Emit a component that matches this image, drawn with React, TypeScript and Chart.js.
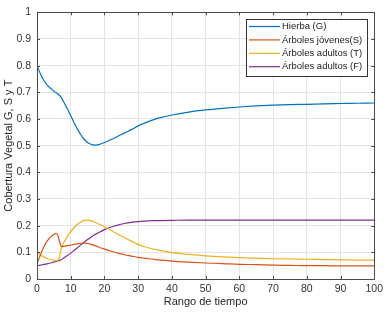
import React, { useEffect, useRef } from "react";
import { Chart, registerables } from "chart.js";

Chart.register(...registerables);

const time = [0, 1, 2, 3, 4, 5, 5.7, 6.2, 6.7, 7.2, 8, 9, 10, 11, 12, 13, 14, 15, 16, 17, 18, 20, 22, 24, 26, 28, 30, 33, 36, 40, 45, 50, 55, 60, 65, 70, 75, 80, 85, 90, 95, 100];

const hierbaG = [0.8, 0.77, 0.745, 0.728, 0.715, 0.705, 0.698, 0.694, 0.688, 0.68, 0.662, 0.638, 0.612, 0.586, 0.562, 0.541, 0.524, 0.512, 0.505, 0.502, 0.503, 0.512, 0.523, 0.535, 0.548, 0.56, 0.574, 0.59, 0.603, 0.615, 0.626, 0.634, 0.64, 0.645, 0.649, 0.652, 0.654, 0.655, 0.657, 0.658, 0.659, 0.66];

const jovenesS = [0.055, 0.09, 0.12, 0.142, 0.157, 0.167, 0.171, 0.163, 0.14, 0.121, 0.123, 0.125, 0.127, 0.13, 0.132, 0.134, 0.135, 0.133, 0.13, 0.126, 0.121, 0.112, 0.104, 0.097, 0.091, 0.086, 0.081, 0.076, 0.072, 0.067, 0.063, 0.06, 0.058, 0.055, 0.054, 0.052, 0.051, 0.05, 0.05, 0.049, 0.049, 0.049];

const adultosT = [0.1, 0.09, 0.083, 0.077, 0.073, 0.07, 0.069, 0.07, 0.085, 0.118, 0.138, 0.16, 0.178, 0.193, 0.205, 0.214, 0.22, 0.221, 0.219, 0.214, 0.208, 0.196, 0.182, 0.168, 0.155, 0.142, 0.129, 0.117, 0.108, 0.099, 0.092, 0.087, 0.083, 0.08, 0.078, 0.076, 0.075, 0.074, 0.073, 0.072, 0.071, 0.071];

const adultosF = [0.05, 0.052, 0.055, 0.057, 0.06, 0.063, 0.066, 0.068, 0.07, 0.072, 0.08, 0.088, 0.097, 0.107, 0.117, 0.128, 0.138, 0.148, 0.157, 0.165, 0.172, 0.185, 0.195, 0.202, 0.208, 0.212, 0.215, 0.218, 0.219, 0.22, 0.221, 0.221, 0.221, 0.221, 0.221, 0.221, 0.221, 0.221, 0.221, 0.221, 0.221, 0.221];

const seriesLabels = ["Hierba (G)", "Árboles jóvenes(S)", "Árboles adultos (T)", "Árboles adultos (F)"];
const seriesColors = ["#0072BD", "#D95319", "#EDB120", "#7E2F8E"];
const xTitle = "Rango de tiempo";
const yTitle = "Cobertura Vegetal G, S y T";

const FONT = "'Liberation Sans', Arial, sans-serif";

const framePlugin = {
  id: "frameAndLegend",
  afterDatasetsDraw(chart: any) {
    const { ctx, chartArea } = chart;
    const { left, right, top, bottom } = chartArea;
    const xs = chart.scales.x;
    const ys = chart.scales.y;
    ctx.save();
    ctx.strokeStyle = "#4a4a4a";
    ctx.lineWidth = 1;
    ctx.beginPath();
    ctx.rect(Math.round(left) + 0.5, Math.round(top) + 0.5, Math.round(right - left), Math.round(bottom - top));
    ctx.stroke();
    const tl = 3;
    ctx.beginPath();
    xs.ticks.forEach((t: any) => {
      const px = Math.round(xs.getPixelForValue(t.value)) + 0.5;
      ctx.moveTo(px, bottom);
      ctx.lineTo(px, bottom - tl);
      ctx.moveTo(px, top);
      ctx.lineTo(px, top + tl);
    });
    ys.ticks.forEach((t: any) => {
      const py = Math.round(ys.getPixelForValue(t.value)) + 0.5;
      ctx.moveTo(left, py);
      ctx.lineTo(left + tl, py);
      ctx.moveTo(right, py);
      ctx.lineTo(right - tl, py);
    });
    ctx.stroke();

    // legend
    const bx = 246.5, by = 19.5, bw = 121, bh = 57;
    ctx.fillStyle = "#ffffff";
    ctx.fillRect(bx, by, bw, bh);
    ctx.strokeStyle = "#333333";
    ctx.strokeRect(bx, by, bw, bh);
    ctx.font = "9.5px " + FONT;
    ctx.textBaseline = "middle";
    ctx.textAlign = "left";
    chart.data.datasets.forEach((ds: any, i: number) => {
      const y = 26.5 + i * 13.4;
      ctx.strokeStyle = ds.borderColor;
      ctx.lineWidth = 1.2;
      ctx.beginPath();
      ctx.moveTo(249, y);
      ctx.lineTo(280, y);
      ctx.stroke();
      ctx.fillStyle = "#1a1a1a";
      ctx.fillText(ds.label, 282, y);
    });
    ctx.restore();
  },
};

export default function App() {
  const ref = useRef<HTMLCanvasElement>(null);
  useEffect(() => {
    if (!ref.current) return;
    const all = [hierbaG, jovenesS, adultosT, adultosF];
    const chart = new Chart(ref.current, {
      type: "line",
      data: {
        datasets: all.map((arr, i) => ({
          label: seriesLabels[i],
          data: time.map((t, j) => ({ x: t, y: arr[j] })),
          borderColor: seriesColors[i],
          backgroundColor: seriesColors[i],
          borderWidth: 1.2,
          pointRadius: 0,
          cubicInterpolationMode: "monotone" as const,
          fill: false,
        })),
      },
      options: {
        animation: false,
        responsive: false,
        devicePixelRatio: 1,
        layout: { padding: { top: 12, right: 12, left: 0, bottom: 0 } },
        plugins: { legend: { display: false }, tooltip: { enabled: false } },
        scales: {
          x: {
            type: "linear",
            min: 0,
            max: 100,
            ticks: { stepSize: 10, color: "#333333", font: { family: FONT, size: 10.5 }, padding: 4, maxRotation: 0 },
            grid: { color: "#e4e4e4", drawTicks: false },
            border: { display: false },
            title: { display: true, text: xTitle, color: "#262626", font: { family: FONT, size: 11 }, padding: { top: 0, bottom: 3 } },
            afterFit: (s: any) => { s.height = 33; },
          },
          y: {
            type: "linear",
            min: 0,
            max: 1,
            ticks: {
              stepSize: 0.1,
              color: "#333333",
              font: { family: FONT, size: 10.5 },
              padding: 6,
              callback: (v: any) => String(Number(Number(v).toFixed(1))),
            },
            grid: { color: "#e4e4e4", drawTicks: false },
            border: { display: false },
            title: { display: true, text: yTitle, color: "#262626", font: { family: FONT, size: 11 }, padding: { top: 2.5, bottom: 0 } },
            afterFit: (s: any) => { s.width = 37; },
          },
        },
      },
      plugins: [framePlugin],
    });
    return () => chart.destroy();
  }, []);
  return (
    <div style={{ position: "absolute", left: 0, top: 0, width: 387, height: 312, background: "#fff" }}>
      <canvas ref={ref} width={387} height={312} style={{ display: "block" }} />
    </div>
  );
}
